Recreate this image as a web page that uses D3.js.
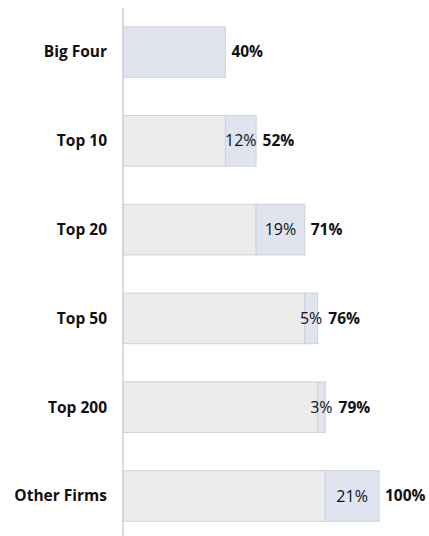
<!DOCTYPE html>
<html>
<head>
<meta charset="utf-8">
<script src="https://cdn.jsdelivr.net/npm/d3@7"></script>
<style>
  body { margin: 0; background: #fff; }
  text { font-family: "Open Sans", sans-serif; fill: #111; }
</style>
</head>
<body>
<div id="chart"></div>
<script>
// firm groups, share before and added share (percent)
var groups = ["Big Four", "Top 10", "Top 20", "Top 50", "Top 200", "Other Firms"];
var added = [40, 12, 19, 5, 3, 21];
var totals = [40, 52, 71, 76, 79, 100];

var width = 429, height = 536;
var margin = {top: 8, right: 20, bottom: 0, left: 123};

var data = groups.map(function(g, i) {
    return {name: g, base: totals[i] - added[i], inc: added[i], total: totals[i]};
});

var x = d3.scaleLinear().domain([0, 100]).range([margin.left, margin.left + 256]);
var y = d3.scaleBand().domain(groups).range([9, 539]).paddingInner(0.43).paddingOuter(0.2);

var svg = d3.select("#chart").append("svg")
    .attr("width", width)
    .attr("height", height);

var rows = svg.selectAll(".row")
    .data(data)
    .enter().append("g")
    .attr("class", "row");

// gray part: share already counted
rows.filter(function(d) { return d.base > 0; })
    .append("rect")
    .attr("x", function(d) { return x(0); })
    .attr("y", function(d) { return y(d.name); })
    .attr("width", function(d) { return x(d.base) - x(0); })
    .attr("height", y.bandwidth())
    .attr("fill", "#ececec")
    .attr("stroke", "#d2d2d2")
    .attr("stroke-width", 1);

// blue part: added share
rows.append("rect")
    .attr("x", function(d) { return x(d.base); })
    .attr("y", function(d) { return y(d.name); })
    .attr("width", function(d) { return x(d.total) - x(d.base); })
    .attr("height", y.bandwidth())
    .attr("fill", "#dfe4ef")
    .attr("stroke", "#cdd2dc")
    .attr("stroke-width", 1);

// inner labels, centered in the blue part
rows.filter(function(d) { return d.base > 0; })
    .append("text")
    .attr("x", function(d) { return (x(d.base) + x(d.total)) / 2; })
    .attr("y", function(d) { return y(d.name) + y.bandwidth() / 2; })
    .attr("dy", "0.35em")
    .attr("text-anchor", "middle")
    .style("font-size", "16px")
    .text(function(d) { return d.inc + "%"; });

// total labels, pushed right of the inner label if it spills over
rows.append("text")
    .attr("x", function(d) {
        var end = x(d.total);
        if (d.base > 0) {
            var w = this.parentNode.querySelector("text").getComputedTextLength();
            end = Math.max(end, (x(d.base) + x(d.total)) / 2 + w / 2);
        }
        return end + 6;
    })
    .attr("y", function(d) { return y(d.name) + y.bandwidth() / 2; })
    .attr("dy", "0.35em")
    .style("font-size", "15.5px")
    .style("font-weight", "bold")
    .text(function(d) { return d.total + "%"; });

// category labels
svg.append("g")
    .selectAll("text")
    .data(groups)
    .enter().append("text")
    .attr("x", 107)
    .attr("y", function(d) { return y(d) + y.bandwidth() / 2; })
    .attr("dy", "0.35em")
    .attr("text-anchor", "end")
    .style("font-size", "15.5px")
    .style("font-weight", "bold")
    .text(function(d) { return d; });

// vertical axis line
svg.append("line")
    .attr("x1", x(0)).attr("x2", x(0))
    .attr("y1", margin.top).attr("y2", height)
    .attr("stroke", "#d0d0d0")
    .attr("stroke-width", 1.5);
</script>
</body>
</html>
